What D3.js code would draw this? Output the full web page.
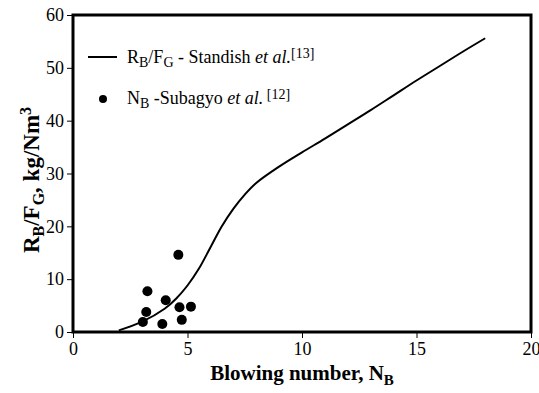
<!DOCTYPE html>
<html>
<head>
<meta charset="utf-8">
<script src="https://cdn.jsdelivr.net/npm/d3@7"></script>
<style>
  body { margin: 0; background: #fff; }
</style>
</head>
<body>
<svg id="chart" width="539" height="393"></svg>
<script>
// Standish et al. curve (R_B/F_G vs blowing number)
const curveX = [2, 3, 4, 4.5, 5, 5.5, 6, 6.5, 7, 7.5, 8, 9, 10, 11, 12, 13, 14, 15, 16, 17, 18];
const curveY = [0.3, 1.9, 4.4, 6.3, 8.8, 12, 16, 20, 23.3, 26, 28.2, 31.3, 34, 36.6, 39.3, 42, 44.8, 47.6, 50.3, 53, 55.6];
// Subagyo et al. measured points
const pointX = [4.6, 3.25, 4.05, 3.2, 4.65, 5.15, 3.05, 3.9, 4.75];
const pointY = [14.6, 7.7, 6.0, 3.8, 4.7, 4.8, 1.9, 1.5, 2.3];
const xTicks = [0, 5, 10, 15, 20];
const yTicks = [0, 10, 20, 30, 40, 50, 60];

const FONT = 'Liberation Serif';

const svg = d3.select('#chart').attr('font-family', FONT);
const margin = { top: 15, right: 8, bottom: 61, left: 73 };
const width = 539 - margin.left - margin.right;
const height = 393 - margin.top - margin.bottom;

const x = d3.scaleLinear().domain([0, 20]).range([0, width]);
const y = d3.scaleLinear().domain([0, 60]).range([height, 0]);

const g = svg.append('g').attr('transform', `translate(${margin.left},${margin.top})`);

// axes
const xAxis = g.append('g')
    .attr('transform', `translate(0,${height})`)
    .call(d3.axisBottom(x).tickValues(xTicks).tickSize(6).tickPadding(4));
const yAxis = g.append('g')
    .call(d3.axisLeft(y).tickValues(yTicks).tickSize(6).tickPadding(3));

[xAxis, yAxis].forEach(a => {
    a.attr('font-family', FONT).attr('font-size', 18);
    a.select('.domain').remove();
    a.selectAll('.tick line').attr('stroke', '#000').attr('stroke-width', 1);
    a.selectAll('.tick text').attr('fill', '#000');
});

// frame
g.append('rect')
    .attr('x', 0).attr('y', 0)
    .attr('width', width).attr('height', height)
    .attr('fill', 'none')
    .attr('stroke', '#000')
    .attr('stroke-width', 3);

// curve
const curveData = curveX.map((d, i) => [d, curveY[i]]);
g.append('path')
    .datum(curveData)
    .attr('fill', 'none')
    .attr('stroke', '#000')
    .attr('stroke-width', 2)
    .attr('d', d3.line().x(d => x(d[0])).y(d => y(d[1])).curve(d3.curveCatmullRom));

// points
g.selectAll('circle.pt')
    .data(pointX.map((d, i) => [d, pointY[i]]))
    .enter()
    .append('circle')
    .attr('class', 'pt')
    .attr('cx', d => x(d[0]))
    .attr('cy', d => y(d[1]))
    .attr('r', 5)
    .attr('fill', '#000');

// legend
const leg = svg.append('g').attr('font-family', FONT).attr('font-size', 18);
leg.append('line')
    .attr('x1', 88).attr('x2', 117)
    .attr('y1', 57).attr('y2', 57)
    .attr('stroke', '#000').attr('stroke-width', 2);
const t1 = leg.append('text').attr('x', 127).attr('y', 63);
t1.append('tspan').text('R');
t1.append('tspan').attr('dy', 4).attr('font-size', 14).text('B');
t1.append('tspan').attr('dy', -4).text('/F');
t1.append('tspan').attr('dy', 4).attr('font-size', 14).text('G');
t1.append('tspan').attr('dy', -4).text(' - Standish ');
t1.append('tspan').attr('font-style', 'italic').text('et al.');
t1.append('tspan').attr('dy', -5).attr('font-size', 14).text('[13]');

leg.append('circle').attr('cx', 103).attr('cy', 99).attr('r', 4).attr('fill', '#000');
const t2 = leg.append('text').attr('x', 127).attr('y', 104);
t2.append('tspan').text('N');
t2.append('tspan').attr('dy', 4).attr('font-size', 14).text('B');
t2.append('tspan').attr('dy', -4).text(' -Subagyo ');
t2.append('tspan').attr('font-style', 'italic').text('et al.');
t2.append('tspan').attr('dy', -5).attr('font-size', 14).text(' [12]');

// axis titles
const xt = svg.append('text')
    .attr('x', margin.left + width / 2)
    .attr('y', 380)
    .attr('text-anchor', 'middle')
    .attr('font-family', FONT)
    .attr('font-size', 21)
    .attr('font-weight', 'bold');
xt.append('tspan').text('Blowing number, N');
xt.append('tspan').attr('dy', 5).attr('font-size', 15).text('B');

const yt = svg.append('text')
    .attr('transform', 'translate(39,180) rotate(-90)')
    .attr('text-anchor', 'middle')
    .attr('font-family', FONT)
    .attr('font-size', 23)
    .attr('font-weight', 'bold');
yt.append('tspan').text('R');
yt.append('tspan').attr('dy', 5).attr('font-size', 16).text('B');
yt.append('tspan').attr('dy', -5).text('/F');
yt.append('tspan').attr('dy', 5).attr('font-size', 16).text('G');
yt.append('tspan').attr('dy', -5).text(', kg/Nm');
yt.append('tspan').attr('dy', -8).attr('font-size', 16).text('3');
</script>
</body>
</html>
